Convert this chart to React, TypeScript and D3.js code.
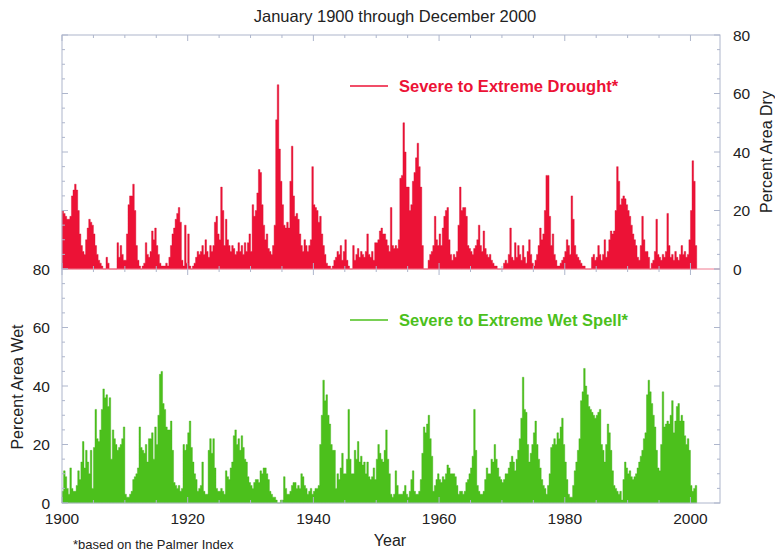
import * as React from "react";
import * as d3 from "d3";

// quarterly estimates (Q1..Q4), Jan 1900 - Dec 2000, percent of area
const drought: number[] = [
  // 1900-1904
  20, 19, 18, 17, 17, 18, 25, 27, 29, 27, 20, 12, 8, 6, 5, 10, 14, 17, 16, 15,
  // 1905-1909
  12, 8, 5, 3, 2, 1, 0, 0, 4, 2, 0, 0, 0, 0, 0, 9, 4, 8, 5, 3,
  // 1910-1914
  3, 12, 22, 25, 25, 29, 20, 8, 3, 1, 0, 1, 2, 9, 5, 4, 6, 13, 10, 14,
  // 1915-1919
  8, 5, 2, 1, 1, 1, 2, 1, 4, 8, 12, 14, 17, 19, 21, 16, 3, 1, 15, 2,
  // 1920-1924
  12, 1, 0, 1, 2, 4, 6, 5, 6, 8, 5, 10, 6, 4, 8, 6, 8, 16, 18, 12,
  // 1925-1929
  10, 28, 20, 8, 17, 10, 8, 6, 8, 7, 5, 6, 9, 6, 8, 5, 9, 6, 9, 12,
  // 1930-1934
  6, 22, 18, 20, 26, 34, 33, 22, 15, 10, 12, 7, 6, 5, 8, 15, 51, 63, 41, 30,
  // 1935-1939
  22, 15, 14, 16, 14, 30, 42, 25, 18, 19, 17, 12, 8, 6, 10, 8, 6, 8, 10, 35,
  // 1940-1944
  22, 21, 20, 16, 18, 12, 8, 5, 2, 1, 1, 0, 1, 3, 4, 6, 5, 8, 3, 6,
  // 1945-1949
  10, 3, 1, 0, 0, 8, 3, 5, 7, 4, 6, 5, 4, 6, 12, 5, 4, 6, 3, 9,
  // 1950-1954
  9, 10, 13, 14, 12, 12, 10, 8, 6, 21, 8, 7, 8, 7, 10, 31, 32, 50, 40, 28,
  // 1955-1959
  28, 20, 22, 30, 33, 38, 43, 35, 28, 8, 0, 0, 0, 3, 5, 6, 8, 18, 10, 8,
  // 1960-1964
  12, 8, 14, 18, 20, 21, 10, 5, 3, 5, 4, 6, 15, 28, 20, 21, 21, 18, 8, 7,
  // 1965-1969
  6, 5, 7, 8, 10, 15, 8, 6, 13, 7, 5, 4, 5, 3, 2, 1, 1, 0, 0, 0,
  // 1970-1974
  0, 2, 3, 2, 5, 14, 4, 3, 9, 4, 8, 5, 3, 8, 4, 2, 6, 10, 5, 2,
  // 1975-1979
  1, 3, 5, 8, 14, 10, 12, 20, 32, 32, 18, 8, 12, 5, 3, 1, 1, 2, 3, 4,
  // 1980-1984
  6, 10, 8, 5, 25, 17, 8, 5, 4, 3, 2, 1, 1, 0, 0, 0, 0, 4, 5, 3,
  // 1985-1989
  4, 8, 5, 3, 5, 10, 4, 6, 10, 13, 12, 13, 20, 35, 30, 22, 24, 25, 24, 22,
  // 1990-1994
  20, 18, 15, 12, 10, 8, 4, 3, 8, 18, 10, 6, 6, 4, 0, 2, 3, 6, 17, 5,
  // 1995-1999
  4, 3, 5, 4, 6, 19, 8, 4, 5, 3, 6, 4, 3, 5, 8, 5, 6, 4, 5, 10,
  // 2000
  20, 37, 30, 8,
];

const wet: number[] = [
  // 1900-1904
  4, 11, 9, 5, 3, 12, 5, 4, 4, 6, 11, 8, 14, 21, 12, 18, 14, 10, 18, 5,
  // 1905-1909
  19, 32, 22, 21, 25, 32, 39, 36, 37, 33, 36, 15, 25, 22, 20, 18, 19, 20, 22, 26,
  // 1910-1914
  3, 2, 2, 3, 4, 8, 9, 10, 12, 26, 19, 18, 17, 20, 14, 22, 22, 24, 15, 26,
  // 1915-1919
  20, 30, 44, 45, 34, 32, 26, 25, 25, 28, 18, 7, 6, 5, 6, 4, 5, 20, 18, 20,
  // 1920-1924
  24, 28, 19, 14, 10, 8, 4, 5, 6, 14, 4, 3, 3, 18, 22, 17, 22, 12, 5, 4,
  // 1925-1929
  4, 5, 4, 3, 11, 9, 8, 12, 14, 23, 25, 20, 22, 18, 23, 19, 15, 14, 9, 7,
  // 1930-1934
  6, 5, 7, 8, 8, 7, 11, 10, 12, 12, 10, 8, 4, 3, 2, 2, 1, 0, 0, 1,
  // 1935-1939
  1, 9, 5, 3, 3, 4, 6, 7, 7, 5, 6, 5, 10, 9, 6, 5, 3, 4, 5, 3,
  // 1940-1944
  4, 5, 5, 6, 20, 30, 42, 35, 37, 30, 27, 20, 18, 18, 5, 10, 8, 12, 17, 10,
  // 1945-1949
  10, 15, 32, 15, 10, 10, 18, 15, 21, 14, 16, 13, 14, 10, 14, 9, 8, 9, 12, 8,
  // 1950-1954
  15, 20, 17, 15, 14, 18, 25, 15, 10, 3, 2, 3, 11, 6, 3, 3, 3, 4, 6, 3,
  // 1955-1959
  2, 4, 8, 11, 4, 3, 3, 4, 8, 17, 26, 24, 27, 30, 22, 16, 4, 6, 8, 10,
  // 1960-1964
  8, 7, 9, 8, 10, 13, 12, 10, 10, 10, 9, 6, 3, 4, 4, 3, 4, 7, 8, 10,
  // 1965-1969
  12, 16, 32, 18, 6, 4, 3, 3, 4, 8, 12, 10, 10, 15, 14, 20, 15, 12, 9, 8,
  // 1970-1974
  7, 8, 10, 10, 12, 14, 16, 14, 11, 15, 18, 22, 29, 43, 32, 31, 20, 14, 17, 20,
  // 1975-1979
  24, 28, 20, 15, 12, 8, 6, 5, 3, 6, 10, 19, 20, 22, 20, 24, 22, 26, 29, 20,
  // 1980-1984
  14, 8, 3, 2, 2, 6, 11, 14, 18, 22, 35, 38, 46, 40, 37, 33, 32, 31, 30, 29,
  // 1985-1989
  30, 31, 32, 20, 18, 14, 20, 27, 24, 18, 11, 6, 5, 4, 3, 4, 1, 8, 14, 12,
  // 1990-1994
  10, 11, 9, 8, 9, 10, 12, 14, 16, 18, 22, 24, 37, 42, 38, 34, 30, 26, 18, 12,
  // 1995-1999
  11, 20, 38, 26, 27, 28, 27, 30, 35, 24, 28, 33, 34, 28, 30, 28, 23, 20, 22, 18,
  // 2000
  6, 4, 5, 6,
];

const yearLabels = [1900, 1920, 1940, 1960, 1980, 2000];
const pctLabels = [0, 20, 40, 60, 80];

const FONT = '"Liberation Sans", Arial, Helvetica, sans-serif';
const RED = "#ec1236";
const GREEN = "#4cc01c";
const AXIS = "#aeb6cc";

interface Step {
  t: number;
  v: number;
}

// one step per quarter, plus a closing point at the end of 2000
const toSteps = (values: number[]): Step[] =>
  values
    .map((v, i) => ({ t: 1900 + i / 4, v }))
    .concat([{ t: 1900 + values.length / 4, v: values[values.length - 1] }]);

function drawChart(svgRef: React.RefObject<SVGSVGElement>) {
  const svg = d3.select(svgRef.current);
  svg.selectAll("*").remove();

  const left = 62;
  const right = 720;
  const top = 35;
  const mid = 269;
  const bottom = 503;

  const x = d3.scaleLinear().domain([1900, 2004.7]).range([left, right]);
  const yDry = d3.scaleLinear().domain([0, 80]).range([mid, top]);
  const yWet = d3.scaleLinear().domain([0, 80]).range([bottom, mid]);

  const dryArea = d3
    .area<Step>()
    .x((d) => x(d.t))
    .y0(yDry(0))
    .y1((d) => yDry(d.v))
    .curve(d3.curveStepAfter);

  const wetArea = d3
    .area<Step>()
    .x((d) => x(d.t))
    .y0(yWet(0))
    .y1((d) => yWet(d.v))
    .curve(d3.curveStepAfter);

  svg
    .append("path")
    .attr("d", dryArea(toSteps(drought)))
    .attr("fill", RED)
    .attr("stroke", "#d80f30")
    .attr("stroke-width", 0.4);

  svg
    .append("path")
    .attr("d", wetArea(toSteps(wet)))
    .attr("fill", GREEN)
    .attr("stroke", "#45b018")
    .attr("stroke-width", 0.4);

  // frame
  const frame = svg.append("g").attr("stroke", AXIS).attr("fill", "none");
  frame
    .append("rect")
    .attr("x", left)
    .attr("y", top)
    .attr("width", right - left)
    .attr("height", bottom - top);
  frame
    .append("line")
    .attr("x1", left)
    .attr("x2", right)
    .attr("y1", mid)
    .attr("y2", mid)
    .attr("stroke", "#f07a90");

  // ticks
  const ticks = svg.append("g").attr("stroke", AXIS).attr("stroke-width", 1);
  const yearTicks = d3.range(1900, 2001, 5);
  const pctTicks = d3.range(0, 81, 5);
  const tl = (major: boolean) => (major ? 6 : 3);

  yearTicks.forEach((yr) => {
    const major = yr % 20 === 0;
    const xx = x(yr);
    ticks.append("line").attr("x1", xx).attr("x2", xx).attr("y1", top).attr("y2", top + tl(major));
    ticks.append("line").attr("x1", xx).attr("x2", xx).attr("y1", mid - tl(major)).attr("y2", mid + tl(major));
    ticks.append("line").attr("x1", xx).attr("x2", xx).attr("y1", bottom).attr("y2", bottom - tl(major));
  });

  [yDry, yWet].forEach((ys) => {
    pctTicks.forEach((p) => {
      const major = p % 20 === 0;
      const yy = ys(p);
      ticks.append("line").attr("x1", left).attr("x2", left + tl(major)).attr("y1", yy).attr("y2", yy);
      ticks.append("line").attr("x1", right).attr("x2", right - tl(major)).attr("y1", yy).attr("y2", yy);
    });
  });

  const text = svg
    .append("g")
    .attr("font-family", FONT)
    .attr("fill", "#222");

  // right axis labels (dry)
  text
    .selectAll(".dry")
    .data(pctLabels)
    .enter()
    .append("text")
    .attr("x", right + 13)
    .attr("y", (d) => yDry(d))
    .attr("dy", "0.36em")
    .attr("font-size", 15.5)
    .text((d) => d);

  // left axis labels (wet)
  text
    .selectAll(".wet")
    .data(pctLabels)
    .enter()
    .append("text")
    .attr("x", left - 12)
    .attr("y", (d) => yWet(d))
    .attr("dy", "0.36em")
    .attr("text-anchor", "end")
    .attr("font-size", 15.5)
    .text((d) => d);

  // year labels
  text
    .selectAll(".yr")
    .data(yearLabels)
    .enter()
    .append("text")
    .attr("x", (d) => x(d))
    .attr("y", bottom + 21)
    .attr("text-anchor", "middle")
    .attr("font-size", 15.5)
    .text((d) => d);

  text
    .append("text")
    .attr("x", 395)
    .attr("y", 22)
    .attr("text-anchor", "middle")
    .attr("font-size", 16.5)
    .text("January 1900 through December 2000");

  text
    .append("text")
    .attr("x", 390)
    .attr("y", 546)
    .attr("text-anchor", "middle")
    .attr("font-size", 16)
    .text("Year");

  text
    .append("text")
    .attr("x", 73)
    .attr("y", 549)
    .attr("font-size", 13)
    .text("*based on the Palmer Index");

  text
    .append("text")
    .attr("transform", "translate(772,152) rotate(-90)")
    .attr("text-anchor", "middle")
    .attr("font-size", 16)
    .text("Percent Area Dry");

  text
    .append("text")
    .attr("transform", "translate(23,387) rotate(-90)")
    .attr("text-anchor", "middle")
    .attr("font-size", 16)
    .text("Percent Area Wet");

  // legends
  const legend = [
    { label: "Severe to Extreme Drought*", color: RED, y: 86 },
    { label: "Severe to Extreme Wet Spell*", color: GREEN, y: 320 },
  ];
  legend.forEach((l) => {
    svg
      .append("line")
      .attr("x1", 350)
      .attr("x2", 388)
      .attr("y1", l.y)
      .attr("y2", l.y)
      .attr("stroke", l.color)
      .attr("stroke-width", 1.5);
    svg
      .append("text")
      .attr("x", 399)
      .attr("y", l.y)
      .attr("dy", "0.36em")
      .attr("font-family", FONT)
      .attr("font-weight", "bold")
      .attr("font-size", 16.5)
      .attr("fill", l.color)
      .text(l.label);
  });
}

export default function App() {
  const svg = React.useRef<SVGSVGElement>(null);
  React.useEffect(() => {
    drawChart(svg);
  }, [svg]);

  return (
    <svg
      ref={svg}
      width={775}
      height={552}
      style={{ position: "absolute", left: 0, top: 0, background: "#fff" }}
    />
  );
}
